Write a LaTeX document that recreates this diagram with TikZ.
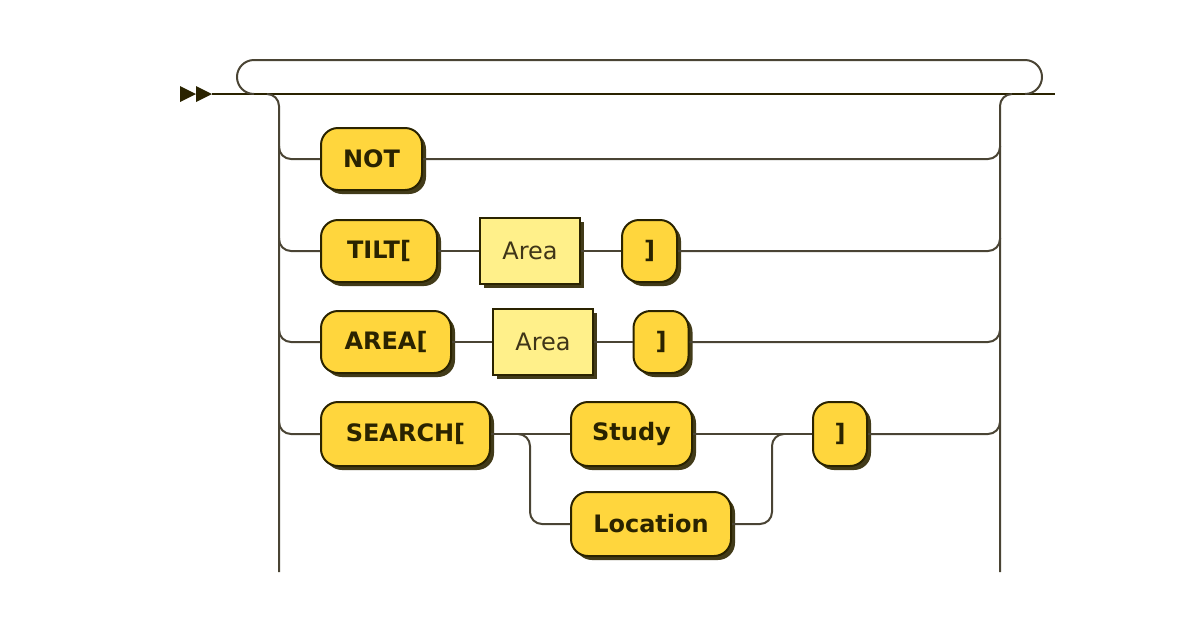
\documentclass[tikz,border=0pt]{standalone}
\usepackage{fontspec}
\setmainfont{DejaVu Sans}
\usetikzlibrary{shadows}
\definecolor{termfill}{HTML}{FFD63D}
\definecolor{ntfill}{HTML}{FFF08A}
\definecolor{edge}{HTML}{2A2300}
\definecolor{wire}{HTML}{4A4434}
\definecolor{shade}{HTML}{2E2600}
\definecolor{nttext}{HTML}{3F3518}
\tikzset{
  wirel/.style={draw=wire, line width=2pt},
  term/.style={draw=edge, line width=2pt, fill=termfill, rounded corners=17pt,
    minimum height=62pt, inner sep=0pt, font=\fontsize{24}{24}\selectfont\bfseries, text=edge,
    drop shadow={shadow xshift=4pt, shadow yshift=-4pt, fill=shade, opacity=0.9}},
  nterm/.style={draw=edge, line width=2pt, fill=ntfill,
    minimum height=66pt, minimum width=100pt, inner sep=0pt, font=\fontsize{24}{24}\selectfont, text=nttext,
    drop shadow={shadow xshift=4pt, shadow yshift=-4pt, fill=shade, opacity=0.9}},
}
\begin{document}
\begin{tikzpicture}[x=1pt, y=-1pt]
\useasboundingbox (0,0) rectangle (1200,630);
% start arrows
\fill[edge] (180,86) -- (196,94) -- (180,102) -- cycle;
\fill[edge] (196,86) -- (212,94) -- (196,102) -- cycle;
\coordinate (start) at (212,94);
\coordinate (stop) at (1055,94);
\draw[draw=edge, line width=2pt] (start) -- (stop);
% loop back
\draw[wirel, rounded corners=17pt] (254,94) -- (237,94) -- (237,60) -- (1042,60) -- (1042,94) -- (1025,94);
% verticals
\draw[wirel, rounded corners=12pt] (267,94) -- (279,94) -- (279,572);
\draw[wirel, rounded corners=12pt] (1000,572) -- (1000,94) -- (1012,94);

% nodes
\node[term, minimum width=101pt] (not) at (371.5,159) {NOT};
\node[term, minimum width=116pt] (tilt) at (379,251) {TILT[};
\node[nterm] (area1) at (530,251) {Area};
\node[term, minimum width=55pt] (rb1) at (649.5,251) {]};
\node[term, minimum width=130pt] (areak) at (386,342) {AREA[};
\node[nterm] (area2) at (543,342) {Area};
\node[term, minimum width=55pt] (rb2) at (661,342) {]};
\node[term, minimum width=169pt, minimum height=64pt] (search) at (405.5,434) {SEARCH[};
\node[term, minimum width=121pt, minimum height=64pt] (study) at (631.5,434) {Study};
\node[term, minimum width=160pt, minimum height=64pt] (loc) at (651,524) {Location};
\node[term, minimum width=54pt, minimum height=64pt] (rb3) at (840,434) {]};

% junction coordinates
\coordinate (l1) at (279,146);
\coordinate (l2) at (279,238);
\coordinate (l3) at (279,330);
\coordinate (l4) at (279,422);
\coordinate (r1) at (1000,146);
\coordinate (r2) at (1000,238);
\coordinate (r3) at (1000,330);
\coordinate (r4) at (1000,422);
\coordinate (sf) at (518,434);
\coordinate (sj) at (784,434);

\draw[wirel, rounded corners=12pt] (l1) |- (not.west);
\draw[wirel, rounded corners=12pt] (not.east) -| (r1);
\draw[wirel, rounded corners=12pt] (l2) |- (tilt.west);
\draw[wirel] (tilt.east) -- (area1.west);
\draw[wirel] (area1.east) -- (rb1.west);
\draw[wirel, rounded corners=12pt] (rb1.east) -| (r2);
\draw[wirel, rounded corners=12pt] (l3) |- (areak.west);
\draw[wirel] (areak.east) -- (area2.west);
\draw[wirel] (area2.east) -- (rb2.west);
\draw[wirel, rounded corners=12pt] (rb2.east) -| (r3);
\draw[wirel, rounded corners=12pt] (l4) |- (search.west);
\draw[wirel] (search.east) -- (study.west);
\draw[wirel] (study.east) -- (rb3.west);
\draw[wirel, rounded corners=12pt] (sf) -| (530,524) -- (loc.west);
\draw[wirel, rounded corners=12pt] (loc.east) -| (772,434) -- (sj);
\draw[wirel, rounded corners=12pt] (rb3.east) -| (r4);
\end{tikzpicture}
\end{document}
